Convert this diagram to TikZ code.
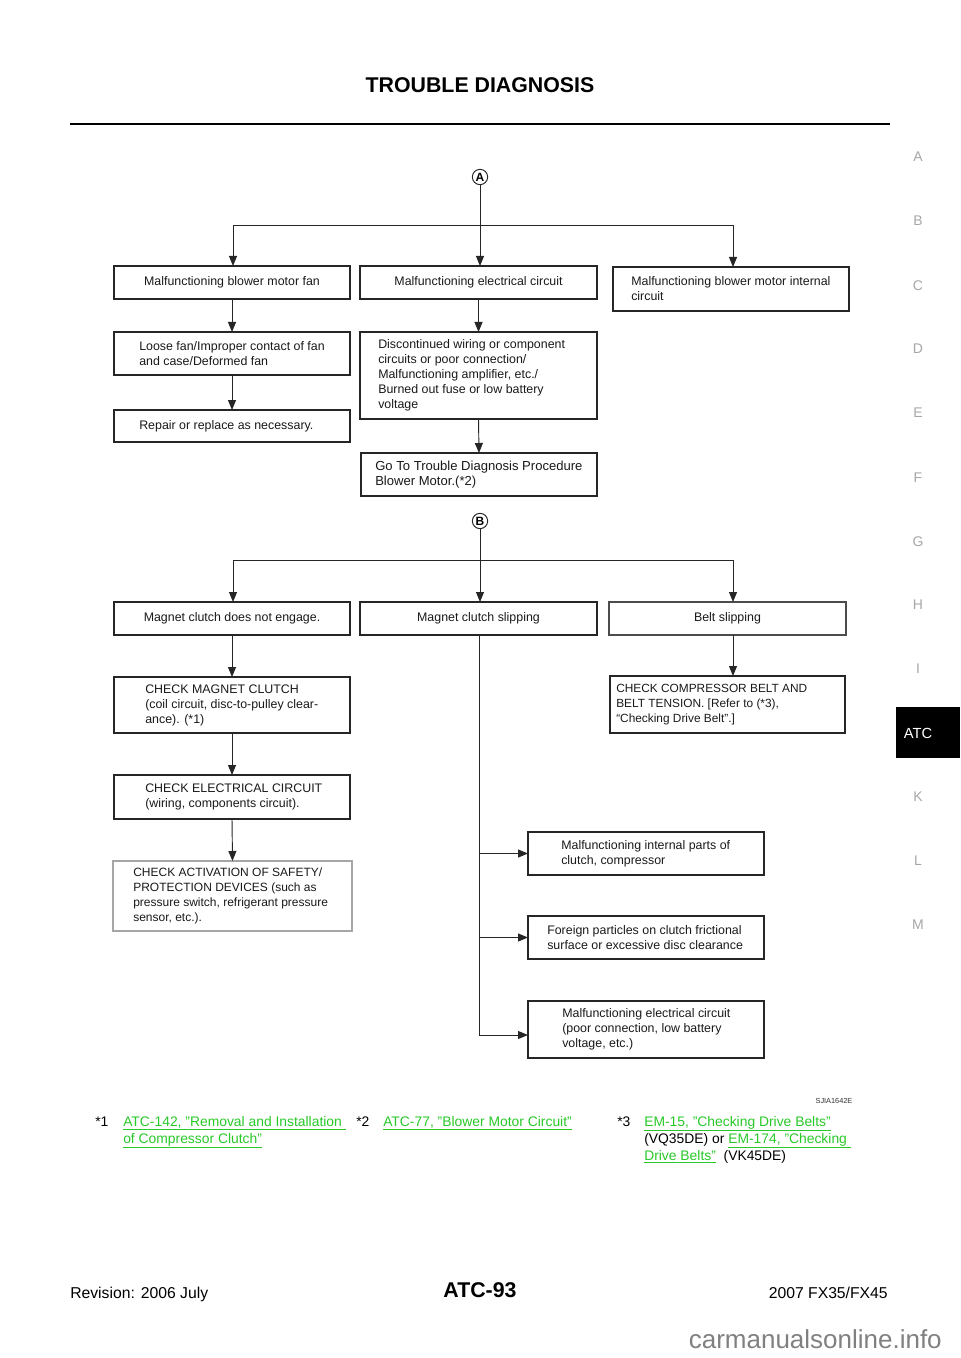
\documentclass[tikz,border=0pt]{standalone}
\usepackage{fontspec}
\setmainfont{Liberation Sans}
\usetikzlibrary{arrows.meta}
\definecolor{lnkgreen}{RGB}{40,200,40}
\newcommand{\lnk}[1]{\textcolor{lnkgreen}{\underline{#1}}}
\newcommand{\dq}{\char"22\relax}
\newcommand{\bx}[9][]{%
 \pgfmathsetmacro\bxw{(#5-#3)*0.75}%
 \pgfmathsetmacro\bxh{(#6-#4)*0.75}%
 \node[box,minimum width=\bxw pt,minimum height=\bxh pt,#1] (#2) at ({(#3+#5)/2},{(#4+#6)/2}) {};%
 \ifdim #7pt<0pt
   \node[txt,align=center,#8] (#2t) at (#2.center) {#9};%
 \else
   \node[txt,anchor=west,#8] (#2t) at ([xshift=#7*0.75pt]#2.west) {#9};%
 \fi}
\begin{document}
\begin{tikzpicture}[x=0.75pt,y=-0.75pt,
  box/.style={draw=black!85,line width=0.8pt,inner sep=0pt,outer sep=0pt},
  txt/.style={inner sep=0pt,font=\fontsize{9.3}{11.25}\selectfont,align=left,text=black!90},
  arr/.style={draw=black!85,line width=0.7pt,-{Triangle[length=7.5pt,width=6pt]}},
  ln/.style={draw=black!85,line width=0.7pt},
  side/.style={font=\fontsize{10.5}{12}\selectfont,text=black!35},
  fn/.style={font=\fontsize{10.4}{12}\selectfont,inner sep=0pt,anchor=base west},
  letc/.style={circle,draw=black!85,line width=0.7pt,inner sep=0pt,minimum size=11.5pt,font=\bfseries\fontsize{9}{9}\selectfont}]
\useasboundingbox (0,0) rectangle (960,1358);

% header
\node[font=\bfseries\fontsize{16}{18}\selectfont] (title) at (480,85) {TROUBLE DIAGNOSIS};
\draw[line width=2.2pt] (70,124) -- (890,124);

% side index
\foreach \l/\yy in {A/157,B/221,C/286,D/349,E/413,F/478,G/542,H/605,I/669,K/797,L/861,M/925}
  \node[side] (s\l) at (918,\yy) {\l};
\node[fill=black,inner sep=0pt,minimum width=48pt,minimum height=38.25pt] (atcbox) at (928,732.5) {};
\node[font=\fontsize{11}{12}\selectfont,text=white] (atct) at (918,733) {ATC};

% ---------- part A ----------
\node[letc] (A) at (480,177) {A};
\bx{b1}{114}{266}{350}{299}{-1}{}{Malfunctioning blower motor fan}
\bx{b2}{360}{266}{597}{299}{-1}{}{Malfunctioning electrical circuit}
\bx{b3}{613}{267}{849}{311}{18}{}{Malfunctioning blower motor internal\\circuit}
\bx{b4}{114}{332}{350}{375}{25}{}{Loose fan/Improper contact of fan\\and case/Deformed fan}
\bx{b5}{114}{410}{350}{442}{25}{}{Repair or replace as necessary.}
\bx{b6}{360}{332}{597}{419}{18}{}{Discontinued wiring or component\\circuits or poor connection/\\Malfunctioning amplifier, etc./\\Burned out fuse or low battery\\voltage}
\bx{b7}{361}{453}{597}{496}{14}{font=\fontsize{9.8}{11.5}\selectfont}{Go To Trouble Diagnosis Procedure\\Blower Motor.(*2)}

\coordinate (ja) at (480,225);
\coordinate (jal) at (233,225);
\coordinate (jar) at (733,225);
\draw[ln] (A) -- (ja);
\draw[ln] (jal) -- (jar);
\draw[arr] (jal) -- (jal |- b1.north);
\draw[arr] (ja) -- (ja |- b2.north);
\draw[arr] (jar) -- (jar |- b3.north);
\draw[arr] (b1.south) -- (b4.north);
\draw[arr] (b4.south) -- (b5.north);
\draw[arr] (b2.south) -- (b6.north);
\draw[arr] (b6.south) -- (b7.north);

% ---------- part B ----------
\node[letc] (B) at (480,521) {B};
\bx{c1}{114}{602}{350}{635}{-1}{}{Magnet clutch does not engage.}
\bx{c2}{360}{602}{597}{635}{-1}{}{Magnet clutch slipping}
\bx[draw=black!70]{c3}{609}{602}{846}{635}{-1}{}{Belt slipping}
\bx{c4}{114}{677}{350}{733}{31}{}{CHECK MAGNET CLUTCH\\(coil circuit, disc-to-pulley clear-\\ance). (*1)}
\bx{c5}{114}{775}{350}{819}{31}{}{CHECK ELECTRICAL CIRCUIT\\(wiring, components circuit).}
\bx[draw=black!35]{c6}{113}{861}{352}{931}{20}{font=\fontsize{9}{11.1}\selectfont}{CHECK ACTIVATION OF SAFETY/\\PROTECTION DEVICES (such as\\pressure switch, refrigerant pressure\\sensor, etc.).}
\bx{c7}{610}{676}{845}{733}{6}{font=\fontsize{8.9}{11.1}\selectfont}{CHECK COMPRESSOR BELT AND\\BELT TENSION. [Refer to (*3),\\“Checking Drive Belt”.]}
\bx{c8}{528}{832}{764}{875}{33}{}{Malfunctioning internal parts of\\clutch, compressor}
\bx{c9}{528}{916}{764}{959}{19}{}{Foreign particles on clutch frictional\\surface or excessive disc clearance}
\bx{c10}{528}{1001}{764}{1058}{34}{}{Malfunctioning electrical circuit\\(poor connection, low battery\\voltage, etc.)}

\coordinate (jb) at (480,560);
\coordinate (jbl) at (233,560);
\coordinate (jbr) at (733,560);
\draw[ln] (B) -- (jb);
\draw[ln] (jbl) -- (jbr);
\draw[arr] (jbl) -- (jbl |- c1.north);
\draw[arr] (jb) -- (jb |- c2.north);
\draw[arr] (jbr) -- (jbr |- c3.north);
\draw[arr] (c1.south) -- (c4.north);
\draw[arr] (c4.south) -- (c5.north);
\draw[arr] (c5.south) -- (c6.north);
\draw[arr] (c3.south -| jbr) -- (jbr |- c7.north);

\coordinate (tb) at (479,1035);
\coordinate (t1) at (479,853.5);
\coordinate (t2) at (479,937.5);
\draw[ln] (c2.south -| tb) -- (tb);
\draw[arr] (t1) -- (c8.west);
\draw[arr] (t2) -- (c9.west);
\draw[arr] (tb) -- (c10.west |- tb);

\node[font=\fontsize{5.5}{6}\selectfont,anchor=east,text=black!80] (sj) at (857,1101) {SJIA1642E};

% ---------- footnotes ----------
\node[fn] (f1) at (95,1126) {*1};
\node[fn] (f1a) at (123,1126) {\lnk{ATC-142, \dq Removal and Installation\ }};
\node[fn] (f1b) at (123,1143) {\lnk{of Compressor Clutch\dq}};
\node[fn] (f2) at (356,1126) {*2};
\node[fn] (f2a) at (383,1126) {\lnk{ATC-77, \dq Blower Motor Circuit\dq}};
\node[fn] (f3) at (617,1126) {*3};
\node[fn] (f3a) at (644,1126) {\lnk{EM-15, \dq Checking Drive Belts\dq}};
\node[fn] (f3b) at (644,1143) {(VQ35DE) or \lnk{EM-174, \dq Checking\ }};
\node[fn] (f3c) at (644,1160) {\lnk{Drive Belts\dq}\ \ (VK45DE)};

% ---------- footer ----------
\node[font=\fontsize{11.8}{13}\selectfont,anchor=base west,inner sep=0pt] (rev) at (70,1298) {Revision: 2006 July};
\node[font=\bfseries\fontsize{16}{18}\selectfont] (pg) at (480,1290) {ATC-93};
\node[font=\fontsize{11.8}{13}\selectfont,anchor=base east,inner sep=0pt] (mdl) at (888,1298) {2007 FX35/FX45};
\node[font=\fontsize{19.5}{21}\selectfont,text=black!50,anchor=base east,inner sep=0pt] (wm) at (942,1348) {carmanualsonline.info};
\end{tikzpicture}
\end{document}
